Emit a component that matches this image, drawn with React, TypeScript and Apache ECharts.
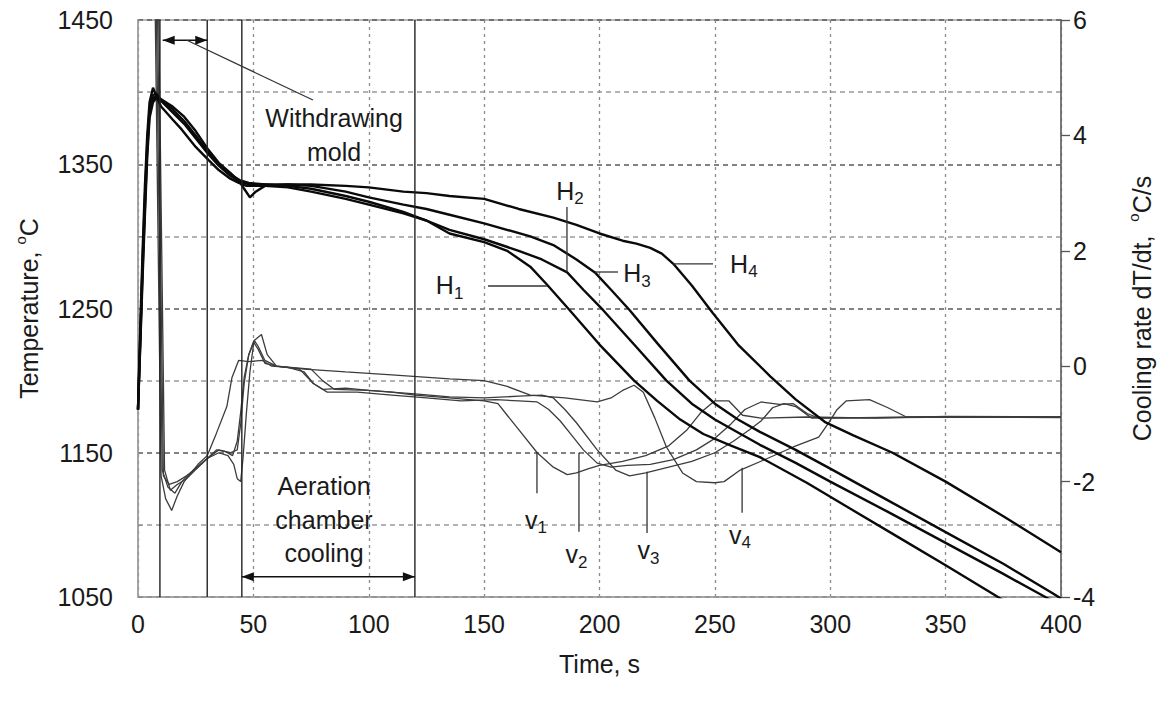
import React, { useEffect, useRef } from "react";
import * as echarts from "echarts";

const FONT = '"Liberation Sans", Arial, Helvetica, sans-serif';

// ---- axis ticks / labels ----
const tempLabels = [1050, 1150, 1250, 1350, 1450];
const timeMarkers = [9.5, 30, 45, 120];

// ---- temperature curves [time s, °C] ----
const H1 = [[0,1180],[1,1238],[2,1290],[3,1335],[4,1370],[5,1393],[6.5,1403],[8,1397],[10,1390],[15,1381],[19,1374],[25,1362],[30.5,1353],[35,1346],[40,1340],[43.7,1337],[47,1335],[55,1335],[65,1334],[75,1331],[90,1326],[100,1322],[115,1316],[125,1311],[135,1302],[150,1296],[160,1290],[170,1279],[177,1267],[187,1249],[200,1225],[215,1200],[225,1186],[235,1173],[245,1163],[257,1155],[269.5,1147],[290,1129],[310,1110],[330,1091],[350,1072],[372.7,1050],[400,1024]];
const H2 = [[0,1180],[1,1232],[2,1283],[3,1327],[4,1364],[5,1388],[6.5,1398],[8,1399],[10,1394],[15,1386],[20,1378],[25,1368],[30.5,1357],[35,1349],[40,1342],[44,1338],[48,1336],[55,1336],[65,1335],[75,1333],[90,1328],[100,1324],[115,1317],[125,1311],[135,1304.5],[150,1298],[165,1290],[175,1284],[186,1275],[193,1263],[201.5,1249],[215,1225],[229,1200],[240,1184],[250,1173],[260,1164],[269.5,1155.5],[285,1143],[300,1130],[325,1109],[350,1087.5],[375,1066],[392,1051],[400,1044]];
const H3 = [[0,1180],[1,1228],[2,1278],[3,1320],[4,1360],[5,1385],[6.5,1395],[8,1398],[10,1395],[15,1388],[20,1380],[25,1370],[30.5,1358],[35,1350],[40,1343],[44,1339],[48,1337],[55,1336],[65,1336],[75,1335],[90,1331],[100,1327],[115,1322],[125,1319],[135,1315],[150,1309],[170,1300],[180,1294],[190,1284],[198,1275],[205,1263],[213,1249],[225,1226],[239,1200],[250,1184],[260,1173],[269.5,1164.5],[285,1152],[300,1139],[325,1117],[350,1095],[375,1073],[396,1053],[400,1049]];
const H4 = [[0,1180],[1,1225],[2,1272],[3,1315],[4,1355],[5,1382],[6.5,1393],[8,1396],[10,1395],[15,1390],[20,1383],[25,1373],[30.5,1360],[35,1351],[40,1344],[44,1338],[46,1333],[48.5,1327],[51,1331],[55,1335],[65,1336],[75,1336],[90,1335],[100,1334],[115,1331],[125,1330],[135,1328],[150,1326],[165,1319],[180,1313],[190,1308],[200,1302],[210,1297],[216,1295],[222,1292],[227,1288],[232,1281],[240,1266],[249,1247],[260,1225],[274,1203],[285,1187],[298,1171],[310,1162],[327,1150],[350,1130],[375,1106],[400,1081]];

// ---- cooling-rate curves [time s, °C/s] ----
const V1 = [[0,30],[6,30],[7.5,6],[10,-1.9],[12,-2.3],[14.6,-2.5],[17,-2.25],[20,-2.0],[23,-1.85],[26,-1.7],[30,-1.55],[34,-1.16],[38.5,-0.7],[40.7,-0.2],[43.6,0.1],[48,0.08],[54,0.1],[58,0.0],[65,-0.02],[72,-0.1],[76,-0.3],[80,-0.4],[90,-0.38],[100,-0.42],[110,-0.45],[120,-0.5],[135,-0.55],[150,-0.6],[156,-0.65],[160,-0.85],[165,-1.1],[173,-1.5],[180,-1.75],[186,-1.88],[190,-1.85],[195,-1.78],[200,-1.72],[210,-1.65],[220,-1.55],[230,-1.38],[238,-1.1],[244,-0.8],[250,-0.6],[256,-0.6],[262,-0.85],[270,-0.9],[290,-0.88],[320,-0.9],[350,-0.87],[400,-0.88]];
const V2 = [[0,30],[6.5,30],[8,6],[10.5,-1.8],[13,-2.1],[16,-2.2],[19,-2.0],[24,-1.8],[30,-1.6],[34,-1.45],[38,-1.48],[41,-1.55],[43,-1.3],[44.5,-0.8],[46,-0.2],[48,0.2],[50,0.42],[52,0.3],[55,0.05],[60,0.0],[70,-0.05],[76,-0.3],[82,-0.45],[95,-0.45],[110,-0.5],[125,-0.55],[140,-0.6],[155,-0.58],[165,-0.6],[173,-0.62],[178,-0.75],[183,-0.95],[188,-1.2],[193,-1.45],[199,-1.68],[205,-1.75],[212,-1.72],[222,-1.7],[232,-1.62],[242,-1.45],[250,-1.25],[257,-1.0],[263,-0.75],[270,-0.62],[278,-0.66],[284,-0.65],[290,-0.82],[295,-0.9],[340,-0.88],[400,-0.88]];
const V3 = [[0,30],[7,30],[8.5,6],[11,-1.9],[13.5,-2.05],[17,-2.0],[21,-1.9],[26,-1.75],[30,-1.6],[35,-1.45],[40,-1.5],[43,-1.45],[44.5,-1.0],[46,-0.3],[48,0.2],[50.5,0.45],[53.5,0.55],[56,0.2],[60,0.0],[75,-0.05],[80,-0.25],[85,-0.4],[100,-0.42],[120,-0.48],[135,-0.53],[150,-0.55],[165,-0.52],[175,-0.5],[180,-0.55],[185,-0.75],[190,-0.98],[199,-1.45],[207,-1.8],[213,-1.9],[220,-1.85],[230,-1.75],[240,-1.65],[250,-1.5],[258,-1.3],[265,-1.1],[270,-0.95],[275,-0.72],[280,-0.65],[285,-0.7],[292,-0.9],[360,-0.88],[400,-0.89]];
const V4 = [[0,30],[7.5,30],[9,6],[11.5,-1.8],[14,-2.15],[17,-2.05],[21,-1.95],[26,-1.75],[30,-1.6],[35,-1.5],[39,-1.55],[41.5,-1.7],[43,-1.95],[44.5,-2.0],[45.5,-1.6],[47,-0.8],[48.5,-0.1],[50.3,0.45],[52,0.35],[55,0.1],[60,0.0],[72,-0.05],[90,-0.1],[110,-0.15],[135,-0.22],[150,-0.25],[160,-0.35],[170,-0.5],[185,-0.55],[199,-0.62],[205,-0.55],[210,-0.42],[215,-0.33],[219,-0.45],[224,-0.9],[229,-1.4],[236,-1.85],[242,-2.0],[250,-2.02],[254,-2.0],[261,-1.8],[271,-1.63],[284,-1.4],[295,-1.23],[299,-1.0],[303,-0.75],[307,-0.6],[317,-0.58],[325,-0.72],[333,-0.88],[400,-0.88]];

// ---- annotation anchors (data coordinates) ----
const hLabels = [
  { txt: "1", t: 141, T: 1266, align: "right", lead: [[151.7, 1265.6], [177.2, 1265.6]] },
  { txt: "2", t: 187.2, T: 1331.5, align: "center", lead: [[185.9, 1320.4], [185.9, 1275.3]] },
  { txt: "3", t: 210.3, T: 1274.3, align: "left", lead: [[198.0, 1275.3], [208.0, 1275.3]] },
  { txt: "4", t: 256.6, T: 1280.9, align: "left", lead: [[231.9, 1280.9], [249.2, 1280.9]] },
];
const vLabels = [
  { txt: "1", t: 172.5, v: -2.66, lead: [[172.9, -1.49], [172.9, -2.2]] },
  { txt: "2", t: 190.0, v: -3.26, lead: [[191.1, -1.5], [191.1, -2.87]] },
  { txt: "3", t: 221.2, v: -3.19, lead: [[220.6, -1.83], [220.6, -2.89]] },
  { txt: "4", t: 260.9, v: -2.92, lead: [[261.8, -1.76], [261.8, -2.54]] },
];

export default function App() {
  const ref = useRef<HTMLDivElement>(null);

  useEffect(() => {
    const chart = echarts.init(ref.current!, undefined, { renderer: "svg" });
    const tS = (name: string, data: number[][]) => ({
      name, type: "line", yAxisIndex: 0, data, symbol: "none", silent: true, z: 4,
      lineStyle: { color: "#0a0a0a", width: 2.4 }, itemStyle: { color: "#0a0a0a" },
    });
    const vS = (name: string, data: number[][]) => ({
      name, type: "line", yAxisIndex: 1, data, symbol: "none", silent: true, z: 3,
      lineStyle: { color: "#3c3c3c", width: 1.3 }, itemStyle: { color: "#3c3c3c" },
    });
    const txt = { fontFamily: FONT, color: "#1a1a1a", fontSize: 25 };
    chart.setOption({
      animation: false,
      backgroundColor: "#ffffff",
      grid: { left: 138, right: 104, top: 20, bottom: 107, show: true, borderColor: "#a0a0a0", borderWidth: 1.5 },
      xAxis: {
        type: "value", min: 0, max: 400, interval: 50,
        axisLine: { show: true, onZero: false, lineStyle: { color: "#a0a0a0", width: 1.5 } },
        axisTick: { show: false },
        axisLabel: { ...txt, margin: 14 },
        splitLine: { show: true, lineStyle: { color: "#8a8a8a", type: [3, 4], width: 1.3 } },
        name: "Time, s", nameLocation: "middle", nameGap: 54, nameTextStyle: { ...txt },
      },
      yAxis: [
        {
          type: "value", min: 1050, max: 1450, interval: 50, position: "left",
          axisLine: { show: true, onZero: false, lineStyle: { color: "#a0a0a0", width: 1.5 } },
          axisTick: { show: true, inside: true, length: 4, lineStyle: { color: "#888" } },
          axisLabel: { ...txt, margin: 25, formatter: (v: number) => (tempLabels.includes(v) ? String(v) : "") },
          splitLine: { show: true, lineStyle: { color: ["#5a5a5a", "#9a9a9a"], type: [5, 4], width: 1.5 } },
          name: "Temperature, {sup|o}C", nameLocation: "middle", nameGap: 94, nameRotate: 90,
          nameTextStyle: { ...txt, rich: { sup: { fontFamily: FONT, color: "#1a1a1a", fontSize: 15, padding: [0, 0, 16, 0] } } },
        },
        {
          type: "value", min: -4, max: 6, interval: 2, position: "right",
          axisLine: { show: true, onZero: false, lineStyle: { color: "#666", width: 1.5 } },
          axisTick: { show: true, inside: false, length: 9, lineStyle: { color: "#555", width: 1.3 } },
          axisLabel: { ...txt, margin: 12 },
          splitLine: { show: false },
          name: "Cooling rate dT/dt,  {sup|o}C/s", nameLocation: "middle", nameGap: 65, nameRotate: 90,
          nameTextStyle: { ...txt, rich: { sup: { fontFamily: FONT, color: "#1a1a1a", fontSize: 15, padding: [0, 0, 16, 0] } } },
        },
      ],
      series: [
        vS("v1", V1), vS("v2", V2), vS("v3", V3), vS("v4", V4),
        tS("H1", H1), tS("H2", H2), tS("H3", H3), tS("H4", H4),
      ],
    });

    const pT = (t: number, T: number) => chart.convertToPixel({ xAxisIndex: 0, yAxisIndex: 0 }, [t, T]) as number[];
    const pV = (t: number, v: number) => chart.convertToPixel({ xAxisIndex: 0, yAxisIndex: 1 }, [t, v]) as number[];
    const g: any[] = [];
    const seg = (a: number[], b: number[], color = "#1a1a1a", w = 1.3) =>
      g.push({ type: "line", z: 20, silent: true, shape: { x1: a[0], y1: a[1], x2: b[0], y2: b[1] }, style: { stroke: color, lineWidth: w } });
    const head = (tip: number[], dir: number) =>
      g.push({ type: "polygon", z: 20, silent: true, shape: { points: [tip, [tip[0] - dir * 12, tip[1] - 4.5], [tip[0] - dir * 12, tip[1] + 4.5]] }, style: { fill: "#111" } });
    const dblArrow = (a: number[], b: number[]) => { seg(a, b, "#111", 1.5); head(a, -1); head(b, 1); };

    // vertical phase markers
    timeMarkers.forEach((t) => seg(pT(t, 1450), pT(t, 1050), "#222", 1.4));
    // withdrawing mold
    dblArrow(pT(10.7, 1436), pT(30, 1436));
    seg(pT(21.2, 1436), pT(75.8, 1394.5), "#333", 1.2);
    const c1 = pT(85, 1370.3);
    g.push({ type: "text", z: 20, silent: true, x: c1[0], y: c1[1], style: { text: "Withdrawing\nmold", fontSize: 25, fontFamily: FONT, fill: "#1a1a1a", align: "center", verticalAlign: "middle", lineHeight: 34 } });
    // aeration chamber cooling
    dblArrow(pT(45, 1064), pT(120, 1064));
    const c2 = pT(80.6, 1103.4);
    g.push({ type: "text", z: 20, silent: true, x: c2[0], y: c2[1], style: { text: "Aeration\nchamber\ncooling", fontSize: 25, fontFamily: FONT, fill: "#1a1a1a", align: "center", verticalAlign: "middle", lineHeight: 33.5 } });

    const rich = () => ({
      m: { fontSize: 25, fontFamily: FONT, fill: "#1a1a1a" },
      s: { fontSize: 17, fontFamily: FONT, fill: "#1a1a1a", padding: [16, 0, 0, 0] },
    });
    hLabels.forEach((h) => {
      seg(pT(h.lead[0][0], h.lead[0][1]), pT(h.lead[1][0], h.lead[1][1]), "#333", 1.3);
      const p = pT(h.t, h.T);
      g.push({ type: "text", z: 20, silent: true, x: p[0], y: p[1], style: { text: `{m|H}{s|${h.txt}}`, rich: rich(), align: h.align, verticalAlign: "middle" } });
    });
    vLabels.forEach((h) => {
      seg(pV(h.lead[0][0], h.lead[0][1]), pV(h.lead[1][0], h.lead[1][1]), "#333", 1.3);
      const p = pV(h.t, h.v);
      g.push({ type: "text", z: 20, silent: true, x: p[0], y: p[1], style: { text: `{m|v}{s|${h.txt}}`, rich: rich(), align: "center", verticalAlign: "middle" } });
    });
    chart.setOption({ graphic: g });

    return () => chart.dispose();
  }, []);

  return (
    <div
      ref={ref}
      style={{ position: "fixed", left: 0, top: 0, width: 1165, height: 704, background: "#fff" }}
    />
  );
}
